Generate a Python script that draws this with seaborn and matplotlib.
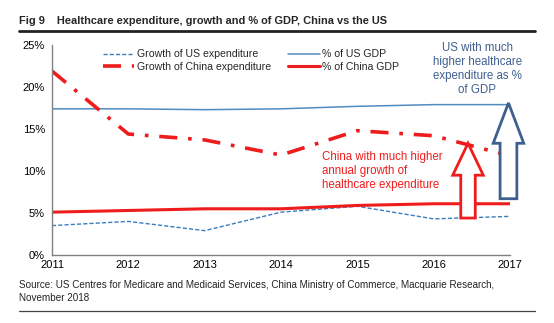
import matplotlib
matplotlib.use("Agg")
import matplotlib.pyplot as plt
import seaborn as sns
import pandas as pd
from matplotlib.patches import Polygon
from matplotlib.lines import Line2D

years = [2011, 2012, 2013, 2014, 2015, 2016, 2017]
us_growth = [3.5, 4.0, 2.9, 5.1, 5.8, 4.3, 4.6]
china_growth = [21.9, 14.4, 13.7, 11.9, 14.8, 14.2, 11.8]
us_gdp = [17.4, 17.4, 17.3, 17.4, 17.7, 17.9, 17.9]
china_gdp = [5.1, 5.3, 5.5, 5.5, 5.9, 6.1, 6.1]
yticks = [0, 5, 10, 15, 20, 25]

sns.set_style("white")
plt.rcParams['font.family'] = ['Liberation Sans', 'DejaVu Sans']

fig = plt.figure(figsize=(5.54, 3.23), dpi=100)
ax = fig.add_axes([52/554, 1-255/323, (510-52)/554, (255-45)/323])

df = pd.DataFrame({"year": years, "us_growth": us_growth, "china_growth": china_growth,
                   "us_gdp": us_gdp, "china_gdp": china_gdp})

blue = "#3a7dbf"
red = "#ee1c1c"
sns.lineplot(data=df, x="year", y="us_growth", ax=ax, color=blue, lw=1.0,
             linestyle=(0, (3, 1.5)), label="Growth of US expenditure")
sns.lineplot(data=df, x="year", y="us_gdp", ax=ax, color="#4f8cc0", lw=1.1,
             label="% of US GDP")
sns.lineplot(data=df, x="year", y="china_growth", ax=ax, color=red, lw=2.6,
             linestyle=(0, (5, 3, 1, 3)), label="Growth of China expenditure")
sns.lineplot(data=df, x="year", y="china_gdp", ax=ax, color=red, lw=2.2,
             label="% of China GDP")

ax.set_xlim(2011, 2017)
ax.set_ylim(0, 25)
ax.set_xticks(years)
ax.set_xticklabels([str(y) for y in years])
ax.set_yticks(yticks)
ax.set_yticklabels([f"{v}%" for v in yticks])
ax.set_xlabel("")
ax.set_ylabel("")
for s in ["top", "right"]:
    ax.spines[s].set_visible(False)
for s in ["left", "bottom"]:
    ax.spines[s].set_color("#808080")
    ax.spines[s].set_linewidth(1.0)
ax.tick_params(axis="both", labelsize=8, colors="#000000", length=3, width=0.8)
ax.tick_params(axis="x", direction="in", color="#808080")
ax.tick_params(axis="y", direction="out", color="#808080", pad=2)

h, l = ax.get_legend_handles_labels()
order = [0, 2, 1, 3]
leg = ax.legend([h[i] for i in order], [l[i] for i in order], ncol=2, frameon=False,
                fontsize=7.6, loc="upper left", bbox_to_anchor=(0.09, 1.025),
                handlelength=3.0, handletextpad=0.25, columnspacing=1.6, labelspacing=0.25)

def hollow_arrow(cx, yb, yh, yt, sw, hw, color):
    pts = [(cx - sw, yb), (cx + sw, yb), (cx + sw, yh), (cx + hw, yh), (cx, yt),
           (cx - hw, yh), (cx - sw, yh)]
    p = Polygon(pts, closed=True, facecolor="white", edgecolor=color, lw=2.0, clip_on=False,
                joinstyle="miter", zorder=5)
    ax.add_patch(p)

hollow_arrow(2016.45, 4.4, 9.5, 13.3, 0.095, 0.2, red)
hollow_arrow(2016.98, 6.7, 13.3, 18.1, 0.11, 0.2, "#3e5f8f")

ax.text(2016.57, 25.4, "US with much\nhigher healthcare\nexpenditure as %\nof GDP",
        ha="center", va="top", color="#3e5f8f", fontsize=8.3, linespacing=1.22)
ax.text(2014.54, 12.4, "China with much higher\nannual growth of\nhealthcare expenditure",
        ha="left", va="top", color=red, fontsize=8.3, linespacing=1.22)

fig.text(19/554, 1-21/323, "Fig 9    Healthcare expenditure, growth and % of GDP, China vs the US",
         fontsize=7.9, fontweight="bold", va="center", ha="left")
fig.add_artist(Line2D([19/554, 535/554], [1-30.5/323, 1-30.5/323], color="#222222", lw=2.0))
fig.text(19/554, 1-285/323,
         "Source: US Centres for Medicare and Medicaid Services, China Ministry of Commerce, Macquarie Research,",
         fontsize=7.1, va="center", ha="left", color="#222222")
fig.text(19/554, 1-298/323, "November 2018", fontsize=7.1, va="center", ha="left", color="#222222")
fig.add_artist(Line2D([19/554, 535/554], [1-311/323, 1-311/323], color="#444444", lw=0.9))

fig.savefig("out.png", dpi=100)
